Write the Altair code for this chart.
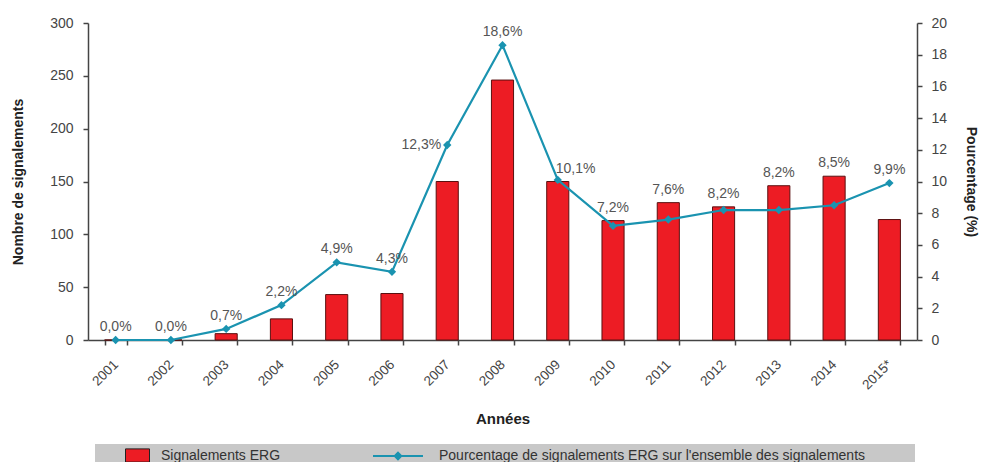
import altair as alt
import pandas as pd

years = ["2001", "2002", "2003", "2004", "2005", "2006", "2007", "2008",
         "2009", "2010", "2011", "2012", "2013", "2014", "2015*"]
counts = [0, 0, 6, 20, 43, 44, 150, 246, 150, 113, 130, 126, 146, 155, 114]
percents = [0.0, 0.0, 0.7, 2.2, 4.9, 4.3, 12.3, 18.6, 10.1, 7.2, 7.6, 8.2, 8.2, 8.5, 9.9]
label_side = ["top"] * 6 + ["left", "top", "right"] + ["top"] * 6

bar_name = "Signalements ERG"
line_name = "Pourcentage de signalements ERG sur l'ensemble des signalements"

df = pd.DataFrame({
    "year": years,
    "count": counts,
    "pct": percents,
    "label": [f"{p:.1f}".replace(".", ",") + "%" for p in percents],
    "side": label_side,
    "s1": bar_name,
    "s2": line_name,
})

FONT = "Liberation Sans, Arial, sans-serif"
RED = "#ED1C24"
TEAL = "#1A93B0"
AXC = "#444444"

x = alt.X("year:N", sort=years, title="Années",
          scale=alt.Scale(paddingInner=0.6, paddingOuter=0.3),
          axis=alt.Axis(labelAngle=-45, labelAlign="right", labelBaseline="middle",
                        labelPadding=17, tickBand="extent", titlePadding=20,
                        labelFontSize=13.5, titleFontSize=15, titleFontWeight="bold",
                        titleColor="#222", labelColor="#444", domainColor=AXC,
                        tickColor=AXC, domainWidth=1.5, tickWidth=1.5, tickSize=5))

base = alt.Chart(df)

band = base.mark_rect(color="#C8C8C8").encode(
    x=alt.value(7), x2=alt.value(827), y=alt.value(421), y2=alt.value(460))

bars = base.mark_bar(stroke="#5A1010", strokeWidth=1).encode(
    x=x,
    y=alt.Y("count:Q", title="Nombre de signalements",
            scale=alt.Scale(domain=[0, 300]),
            axis=alt.Axis(values=[0, 50, 100, 150, 200, 250, 300], grid=False,
                          labelFontSize=14, titleFontSize=14, titleFontWeight="bold",
                          titleColor="#222", labelColor="#444", domainColor=AXC,
                          tickColor=AXC, domainWidth=1.5, tickWidth=1.5, tickSize=5,
                          labelPadding=10, titlePadding=24)),
    color=alt.Color("s1:N", scale=alt.Scale(range=[RED]),
                    legend=alt.Legend(title=None, orient="none", legendX=37, legendY=420,
                                      symbolType="M-1,-0.55H1V0.55H-1Z", symbolSize=576,
                                      symbolStrokeColor="#222", symbolStrokeWidth=1,
                                      labelFontSize=14, labelColor="#333", labelOffset=11,
                                      labelLimit=400, padding=0)),
)

pct_axis = alt.Axis(orient="right", values=list(range(0, 21, 2)), grid=False,
                    labelFontSize=14, titleFontSize=14, titleFontWeight="bold",
                    titleColor="#222", labelColor="#444", domainColor=AXC,
                    tickColor=AXC, domainWidth=1.5, tickWidth=1.5, tickSize=5,
                    labelPadding=9, titlePadding=17)
pct_scale = alt.Scale(domain=[0, 20])
y2 = alt.Y("pct:Q", title="Pourcentage (%)", scale=pct_scale, axis=pct_axis)

line = base.mark_line(strokeWidth=2.2).encode(
    x=x, y=y2,
    stroke=alt.Stroke("s2:N", scale=alt.Scale(range=[TEAL]),
                      legend=alt.Legend(title=None, orient="none", legendX=284, legendY=407,
                                        symbolType="M-1,0H1M0,-0.13L0.13,0L0,0.13L-0.13,0Z",
                                        symbolSize=2500, symbolStrokeWidth=2,
                                        symbolFillColor=TEAL, symbolStrokeColor=TEAL,
                                        labelFontSize=14, labelColor="#333", labelOffset=15,
                                        labelLimit=800, padding=0)),
)

points = base.mark_point(shape="diamond", filled=True, size=70, color=TEAL, opacity=1).encode(
    x=x, y=y2)

lab_y = alt.Y("lpos:Q", title="Pourcentage (%)", scale=pct_scale, axis=pct_axis)
txt_kw = dict(font=FONT, fontSize=14, color="#555")
labels = base.transform_calculate(
    lpos="max(datum.pct, datum.count * 20 / 300)")
labels_top = labels.mark_text(dy=-13, **txt_kw).encode(
    x=x, y=lab_y, text="label:N"
).transform_filter(alt.datum.side == "top")
labels_left = labels.mark_text(align="right", dx=-6, dy=0, **txt_kw).encode(
    x=x, y=lab_y, text="label:N"
).transform_filter(alt.datum.side == "left")
labels_right = labels.mark_text(align="left", dx=-2, dy=-11, **txt_kw).encode(
    x=x, y=lab_y, text="label:N"
).transform_filter(alt.datum.side == "right")

left = alt.layer(band, bars)
right = alt.layer(line, points, labels_top, labels_left, labels_right)

chart = alt.layer(left, right).resolve_scale(
    y="independent", color="independent", stroke="independent"
).properties(
    width=829, height=317,
    autosize=alt.AutoSizeParams(type="none"),
    padding={"left": 80, "top": 15, "right": 63, "bottom": 122},
).configure(font=FONT).configure_view(strokeWidth=0).configure_axis(
    labelFont=FONT, titleFont=FONT).configure_legend(labelFont=FONT)

chart.save("out.html", embed_options={"renderer": "svg", "actions": False})
